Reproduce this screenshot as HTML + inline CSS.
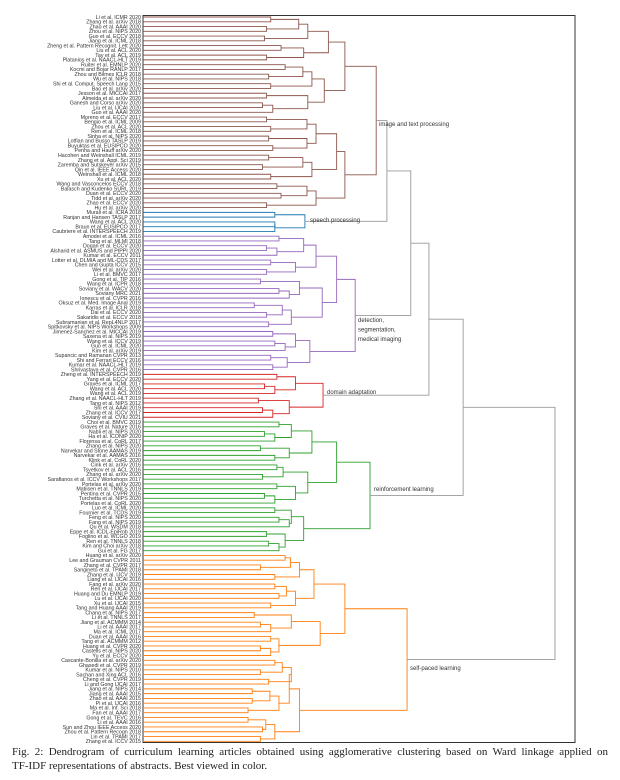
<!DOCTYPE html>
<html><head><meta charset="utf-8">
<style>
html,body{margin:0;padding:0;background:#fff;}
body{width:620px;height:780px;position:relative;overflow:hidden;}
#chart{position:absolute;left:0;top:0;}
#caption{position:absolute;left:12px;top:745px;width:596px;font-family:"Liberation Serif",serif;font-size:11px;line-height:14px;color:#222;}
#caption .l1{text-align:justify;text-align-last:justify;white-space:nowrap;}
</style></head>
<body>
<svg id="chart" width="620" height="745" xmlns="http://www.w3.org/2000/svg"></svg>
<div id="caption"><div class="l1">Fig. 2: Dendrogram of curriculum learning articles obtained using agglomerative clustering based on Ward linkage applied on</div><div>TF-IDF representations of abstracts. Best viewed in color.</div></div>
<script>
const leafLabels = [
"Li et al. ICMR 2020","Zhang et al. arXiv 2018","Zhao et al. AAAI 2020","Zhou et al. NIPS 2020","Guo et al. ECCV 2018","Jiang et al. ICML 2018","Zheng et al. Pattern Recognit. Lett 2020","Liu et al. ACL 2020","Tay et al. ACL 2019","Platanios et al. NAACL-HLT 2019","Ruiter et al. EMNLP 2020","Kocmi and Bojar RANLP 2017","Zhou and Bilmes ICLR 2018","Wu et al. NIPS 2018","Shi et al. Comput. Speech Lang 2015","Bao et al. arXiv 2020","Jesson et al. MICCAI 2017","Almeida et al. arXiv 2020","Ganesh and Corso arXiv 2020","Liu et al. IJCAI 2020","Guo et al. AAAI 2020","Moreno et al. ECCV 2017","Bengio et al. ICML 2009","Zhou et al. ACL 2020","Ren et al. ICML 2018","Sinha et al. NIPS 2020","Lotfian and Busso TASLP 2019","Buyuktas et al. EUSIPCO 2020","Penha and Hauff arXiv 2020","Hacohen and Weinshall ICML 2019","Zhang et al. Appl. Sci 2019","Zaremba and Sutskever arXiv 2015","Qin et al. IEEE Access 2020","Weinshall et al. ICML 2018","Xu et al. ACL 2020","Wang and Vasconcelos ECCV 2018","Balasch and Kudenko SURL 2019","Duan et al. ECCV 2020","Tidd et al. arXiv 2020","Zhao et al. ECCV 2020","Hu et al. arXiv 2020",
"Murali et al. ICRA 2018","Ranjan and Hansen TASLP 2017","Wang et al. ACL 2020","Braun et al. EUSIPCO 2017","Caubriere et al. INTERSPEECH 2019",
"Amodei et al. ICML 2016","Tang et al. MLMI 2018","Dogan et al. ECCV 2020","Alsharid et al. ASMUS and PIPPI 2020","Kumar et al. ECCV 2011","Lotter et al. DLMIA and ML-CDS 2017","Chen and Gupta ICCV 2015","Wei et al. arXiv 2020","Li et al. BMVC 2017","Gong et al. TIP 2016","Wang et al. ICPR 2018","Soviany et al. WACV 2020","Soviany MRC 2021","Ionescu et al. CVPR 2016","Oksuz et al. Med. Image Anal 2019","Karras et al. ICLR 2018","Dai et al. ECCV 2020","Sakaridis et al. ECCV 2018","Subramanian et al. RepL4NLP 2017","Spitkovsky et al. NIPS Workshops 2009","Jimenez-Sanchez et al. MICCAI 2019","Saxena et al. NIPS 2019","Wang et al. ICCV 2019","Guo et al. ICML 2020","Kim et al. arXiv 2019","Supancic and Ramanan CVPR 2013","Shi and Ferrari ECCV 2016","Kumar et al. NAACL-HLT 2019","Shrivastava et al. CVPR 2016",
"Zheng et al. INTERSPEECH 2019","Yang et al. ECCV 2020","Graves et al. ICML 2017","Wang et al. ACL 2020","Wang et al. ACL 2019","Zhang et al. NAACL-HLT 2019","Tang et al. NIPS 2012","Shi et al. AAAI 2019","Zhang et al. ICCV 2017","Soviany et al. CVIU 2021",
"Choi et al. BMVC 2019","Graves et al. Nature 2016","Nabli et al. NIPS 2020","Ha et al. ICONIP 2020","Florensa et al. CoRL 2017","Zhang et al. NIPS 2020","Narvekar and Stone AAMAS 2019","Narvekar et al. AAMAS 2016","Klink et al. CoRL 2020","Cirik et al. arXiv 2016","Tsvetkov et al. ACL 2016","Zhang et al. arXiv 2020","Sarafianos et al. ICCV Workshops 2017","Portelas et al. arXiv 2020","Matiisen et al. TNNLS 2019","Pentina et al. CVPR 2015","Turchetta et al. NIPS 2020","Portelas et al. CoRL 2020","Luo et al. ICML 2020","Fournier et al. TCDS 2019","Feng et al. NIPS 2020","Fang et al. NIPS 2019","Qu et al. WSDM 2018","Eppe et al. ICDL-EpiRob 2019","Foglino et al. WCGO 2019","Ren et al. TNNLS 2018","Kim and Choi arXiv 2018","Gui et al. FG 2017",
"Huang et al. arXiv 2020","Lee and Grauman CVPR 2011","Zhang et al. CVPR 2017","Sangineto et al. TPAMI 2018","Zhang et al. IJCV 2019","Liang et al. IJCAI 2016","Fang et al. arXiv 2020","Ren et al. IJCAI 2017","Huang and Du EMNLP 2019","Lu et al. IJCAI 2020","Xu et al. IJCAI 2015","Tang and Huang AAAI 2019","Chang et al. NIPS 2017","Li et al. TNNLS 2017","Jiang et al. ACMMM 2014","Li et al. AAAI 2017","Ma et al. ICML 2017","Duan et al. AAAI 2016","Tang et al. ACMMM 2012","Huang et al. CVPR 2020","Castells et al. NIPS 2020","Yu et al. ECCV 2020","Cascante-Bonilla et al. arXiv 2020","Ghasedi et al. CVPR 2019","Kumar et al. NIPS 2010","Sachan and Xing ACL 2016","Cheng et al. CVPR 2019","Li and Gong IJCAI 2017","Jiang et al. NIPS 2014","Jiang et al. AAAI 2015","Zhao et al. AAAI 2015","Pi et al. IJCAI 2016","Ma et al. Inf. Sci 2018","Fan et al. AAAI 2017","Gong et al. TEVC 2016","Li et al. AAAI 2016","Sun and Zhou IEEE Access 2020","Zhou et al. Pattern Recogn 2018","Lin et al. TPAMI 2017","Zhang et al. ICCV 2015"
];
const clusterNames = ["image and text processing","speech processing","detection, segmentation, medical imaging","domain adaptation","reinforcement learning","self-paced learning"];
const clusterColors = ["#8c564b","#1f77b4","#9467bd","#d62728","#2ca02c","#ff7f0e"];
const brownGroups = [6,4,6,5,8,6,6];
const brownGroupH = [4.0,3.9,4.1,4.0,4.2,4.1,4.2];
const brownPairH = [3.1,3.0,2.95,3.35,3.0,3.45,3.05,3.1,3.0,2.9,3.0,3.1,3.05,3.15,3.05,2.9,3.1,3.25,3.35,3.0];
const brownLevels = [[4.5,4.4,4.7],[4.9,4.9]];
const blueGroups = [2,3];
const blueGroupH = [3.2,3.25];
const bluePairH = [3.2,3.2];
const blueLevels = [];
const purpleGroups = [5,4,5,6,5,4];
const purpleGroupH = [3.9,3.7,3.8,3.6,3.7,3.5];
const purplePairH = [3.3,3.0,3.1,3.0,2.85,3.3,2.7,3.0,3.05,3.15,3.2,3.1,3.15];
const purpleLevels = [[4.2,4.35,4.05],[4.7]];
const redGroups = [5,5];
const redGroupH = [3.7,3.55];
const redPairH = [3.25,2.95,2.8,2.9];
const redLevels = [];
const greenGroups = [5,4,4,5,5,5];
const greenGroupH = [3.6,3.55,3.4,3.7,3.6,3.45];
const greenPairH = [3.3,2.95,2.85,3.2,3.25,2.9,3.25,2.95,3.2,3.3,3.0,3.05];
const greenLevels = [[4.1,4.0,3.9],[4.7]];
const orangeGroups = [6,6,5,5,6,6,6];
const orangeGroupH = [3.8,3.7,3.6,3.3,3.6,3.3,3.2];
const orangePairH = [3.45,2.85,3.2,3.2,3.3,3.1,2.7,2.85,3.1,2.85,3.2,2.85,3.05,2.65,2.65,2.55,2.55,2.9,2.85];
const orangeLevels = [[4.15,4.3,3.55],[4.9,3.8]];
const clusterRootH = [5.66,3.93,5.15,4.37,5.51,6.41];
const topMergeH = [5.92,6.50,6.94,7.77,10.0];

const svg = document.getElementById('chart');
const NS = 'http://www.w3.org/2000/svg';
const X0 = 143, X1 = 555, DMAX = 10;
const Y0 = 17, DY = 4.765;
function xs(d){ return X0 + d / DMAX * (X1 - X0); }
function ys(i){ return Y0 + i * DY; }

const frame = document.createElementNS(NS,'rect');
frame.setAttribute('x',143);frame.setAttribute('y',15.5);frame.setAttribute('width',432);frame.setAttribute('height',727);
frame.setAttribute('fill','none');frame.setAttribute('stroke','#333');frame.setAttribute('stroke-width','1');


svg.appendChild(frame);

function link(a,b,h,color,name){
  const p = document.createElementNS(NS,'path');
  p.setAttribute('d',`M${xs(a.h)},${a.y}H${xs(h)}V${b.y}H${xs(b.h)}`);
  p.setAttribute('fill','none');p.setAttribute('stroke',color);p.setAttribute('stroke-width','0.9');
  
  
  svg.appendChild(p);
  return {h:h, y:(a.y+b.y)/2};
}
function buildCluster(start, groups, groupH, pairH, levels, rootH, color){
  let idx = start, p = 0, gnodes = [];
  groups.forEach((gs,g)=>{
    let nodes = [], rem = gs;
    while(rem>=2){ nodes.push(link({h:0,y:ys(idx)},{h:0,y:ys(idx+1)},pairH[p++],color,'leaf-link')); idx+=2; rem-=2; }
    if(rem===1){
      const lf = {h:0,y:ys(idx++)};
      if(nodes.length){ const last = nodes.pop(); nodes.push(link(last,lf,Math.min(groupH[g]-0.05,last.h+0.25),color,'leaf-link')); }
      else nodes.push(lf);
    }
    while(nodes.length>1){
      const nx=[]; const depth = Math.ceil(Math.log2(nodes.length));
      for(let i=0;i<nodes.length;i+=2){
        if(i+1<nodes.length) nx.push(link(nodes[i],nodes[i+1],groupH[g]-0.22*(depth-1),color,'group-link'));
        else nx.push(nodes[i]);
      }
      nodes = nx;
    }
    gnodes.push(nodes[0]);
  });
  levels.forEach(lv=>{
    const nx=[]; let k=0;
    for(let i=0;i<gnodes.length;i+=2){
      if(i+1<gnodes.length) nx.push(link(gnodes[i],gnodes[i+1],lv[k++],color,'subcluster-link'));
      else nx.push(gnodes[i]);
    }
    gnodes = nx;
  });
  while(gnodes.length>1){ gnodes=[link(gnodes[0],gnodes[1],rootH,color,'cluster-root-link')].concat(gnodes.slice(2)); }
  return {node:gnodes[0], end:idx};
}
const defs = [
 [brownGroups,brownGroupH,brownPairH,brownLevels],
 [blueGroups,blueGroupH,bluePairH,blueLevels],
 [purpleGroups,purpleGroupH,purplePairH,purpleLevels],
 [redGroups,redGroupH,redPairH,redLevels],
 [greenGroups,greenGroupH,greenPairH,greenLevels],
 [orangeGroups,orangeGroupH,orangePairH,orangeLevels]
];
let start = 0; const roots = [];
defs.forEach((d,c)=>{
  const r = buildCluster(start,d[0],d[1],d[2],d[3],clusterRootH[c],clusterColors[c]);
  roots.push(r.node); start = r.end;
});
let acc = roots[0];
for(let c=1;c<roots.length;c++){ acc = link(acc,roots[c],topMergeH[c-1],'#999','top-level-link'); }

leafLabels.forEach((t,i)=>{
  const e = document.createElementNS(NS,'text');
  e.setAttribute('x',141);e.setAttribute('y',ys(i)+1.8);
  e.setAttribute('text-anchor','end');
  e.setAttribute('font-family','Liberation Sans, sans-serif');e.setAttribute('font-size','5.3');e.setAttribute('fill','#333');
  e.textContent = t;
  
  
  svg.appendChild(e);
});
const annot = [[0,["image and text processing"],379,126],[1,["speech processing"],310,222],[2,["detection,","segmentation,","medical imaging"],358,322],[3,["domain adaptation"],327,394],[4,["reinforcement learning"],374,491],[5,["self-paced learning"],410,670]];
annot.forEach(a=>{
  a[1].forEach((ln,j)=>{
    const e = document.createElementNS(NS,'text');
    e.setAttribute('x',a[2]);e.setAttribute('y',a[3]+j*9.5);
    e.setAttribute('font-family','Liberation Sans, sans-serif');e.setAttribute('font-size','6');e.setAttribute('fill','#333');
    e.textContent = ln;
    
    
    svg.appendChild(e);
  });
});
</script>
</body></html>
